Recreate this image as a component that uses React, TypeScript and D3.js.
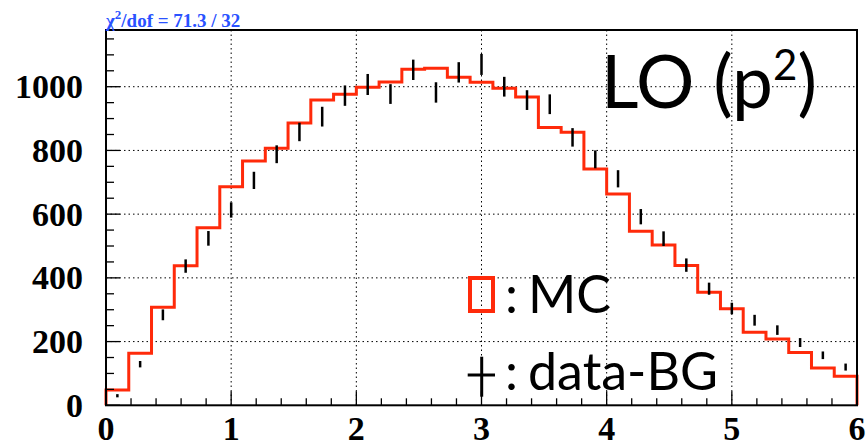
import React from "react";
import * as d3 from "d3";

const W = 866;
const H = 443;

// 33 bins between 0 and 6
const binEdgesRange: [number, number] = [0, 6];
const nBins = 33;

// MC histogram (red steps)
const mcValues = [48, 163, 308, 438, 557, 686, 767, 807, 886, 958, 976, 998, 1015, 1055, 1058, 1030, 1014, 995, 968, 872, 857, 742, 663, 546, 503, 439, 355, 303, 229, 208, 166, 117, 91];
// data-BG points
const dataValues = [30, 129, 284, 437, 524, 613, 706, 788, 858, 906, 972, 1007, 977, 1053, 982, 1045, 1070, 1000, 958, 945, 841, 772, 711, 592, 523, 440, 366, 304, 267, 236, 197, 157, 120];
const dataErrors = [5, 10, 17, 21, 23, 24, 27, 28, 29, 31, 32, 33, 31, 32, 32, 32, 33, 31, 31, 31, 29, 28, 27, 24, 23, 21, 19, 18, 17, 15, 14, 12, 11];

const xMajorTicks = [0, 1, 2, 3, 4, 5, 6];
const yMajorTicks = [0, 200, 400, 600, 800, 1000];
const yMax = 1178;

const chiText = "/dof = 71.3 / 32";

export default function App() {
  const left = 106, right = 857, top = 30, bottom = 405.3;
  const x = d3.scaleLinear().domain(binEdgesRange).range([left, right]);
  const y = d3.scaleLinear().domain([0, yMax]).range([bottom, top]);
  const bw = (binEdgesRange[1] - binEdgesRange[0]) / nBins;

  // histogram step path
  const pts: [number, number][] = [[0, 0]];
  mcValues.forEach((v, i) => {
    pts.push([i * bw, v]);
    pts.push([(i + 1) * bw, v]);
  });
  pts.push([6, 0]);
  const line = d3.line<[number, number]>().x(d => x(d[0])).y(d => y(d[1]));

  const xMinor = d3.range(0, 6.0001, 0.2).filter(v => Math.abs(v - Math.round(v)) > 1e-6);
  const yMinor = d3.range(0, yMax, 50).filter(v => v % 200 !== 0);

  const serif = "'Liberation Serif', 'Times New Roman', serif";
  const sans = "Lato, 'Open Sans', sans-serif";

  return (
    <div style={{ position: "absolute", left: 0, top: 0 }}>
      <svg width={W} height={H} style={{ display: "block", background: "#fff" }}>
        {/* grid */}
        <g stroke="#000" strokeWidth={1} strokeDasharray="1.5,3">
          {xMajorTicks.slice(1, -1).map(t => (
            <line key={"gx" + t} x1={x(t)} x2={x(t)} y1={top} y2={bottom} />
          ))}
          {yMajorTicks.slice(1).map(t => (
            <line key={"gy" + t} x1={left} x2={right} y1={y(t)} y2={y(t)} />
          ))}
        </g>

        {/* MC histogram */}
        <path d={line(pts) || ""} fill="none" stroke="#ff2a0a" strokeWidth={3} />

        {/* data points */}
        <g stroke="#000" strokeWidth={2.5}>
          {dataValues.map((v, i) => {
            const cx = x((i + 0.5) * bw);
            const e = Math.max(dataErrors[i], 4);
            return <line key={"d" + i} x1={cx} x2={cx} y1={y(v - e)} y2={y(v + e)} />;
          })}
        </g>

        {/* frame */}
        <rect x={left} y={top} width={right - left} height={bottom - top} fill="none" stroke="#000" strokeWidth={2} />

        {/* x ticks */}
        <g stroke="#000" strokeWidth={1.3}>
          {xMajorTicks.map(t => (
            <line key={"xt" + t} x1={x(t)} x2={x(t)} y1={bottom} y2={bottom - 14} />
          ))}
          {xMinor.map(t => (
            <line key={"xm" + t} x1={x(t)} x2={x(t)} y1={bottom} y2={bottom - 7} />
          ))}
          {yMajorTicks.map(t => (
            <line key={"yt" + t} x1={left} x2={left + 14} y1={y(t)} y2={y(t)} />
          ))}
          {yMinor.map(t => (
            <line key={"ym" + t} x1={left} x2={left + 8} y1={y(t)} y2={y(t)} />
          ))}
        </g>

        {/* tick labels */}
        <g fontFamily={serif} fontWeight="bold" fontSize={34} fill="#000">
          {xMajorTicks.map(t => (
            <text key={"xl" + t} x={x(t)} y={439.5} textAnchor="middle">{t}</text>
          ))}
          {yMajorTicks.map(t => (
            <text key={"yl" + t} x={83} y={y(t) + 11.5} textAnchor="end">{t}</text>
          ))}
        </g>

        {/* chi2 */}
        <text x={106} y={26.5} fontFamily={serif} fontWeight="bold" fontSize={19} fill="#2a52ff">
          χ<tspan dy={-8} fontSize={13}>2</tspan><tspan dy={8}>{chiText}</tspan>
        </text>

        {/* LO (p^2) */}
        <text x={601} y={108.3} fontFamily={sans} fontSize={73} fill="#000">
          LO (p<tspan dy={-28} fontSize={42}>2</tspan><tspan dy={28}>)</tspan>
        </text>

        {/* legend */}
        <rect x={470} y={278} width={23} height={33} fill="none" stroke="#ff2a0a" strokeWidth={4} />
        <text x={505} y={312.7} fontFamily={sans} fontSize={52} fill="#000">:</text>
        <text x={528} y={312.7} fontFamily={sans} fontSize={52} fill="#000">MC</text>
        <line x1={481.7} x2={481.7} y1={356.7} y2={396.7} stroke="#000" strokeWidth={3} />
        <line x1={467.7} x2={495} y1={375} y2={375} stroke="#000" strokeWidth={3} />
        <text x={505} y={390} fontFamily={sans} fontSize={52} fill="#000">:</text>
        <text x={528} y={390} fontFamily={sans} fontSize={52} fill="#000">data-BG</text>
      </svg>
    </div>
  );
}
